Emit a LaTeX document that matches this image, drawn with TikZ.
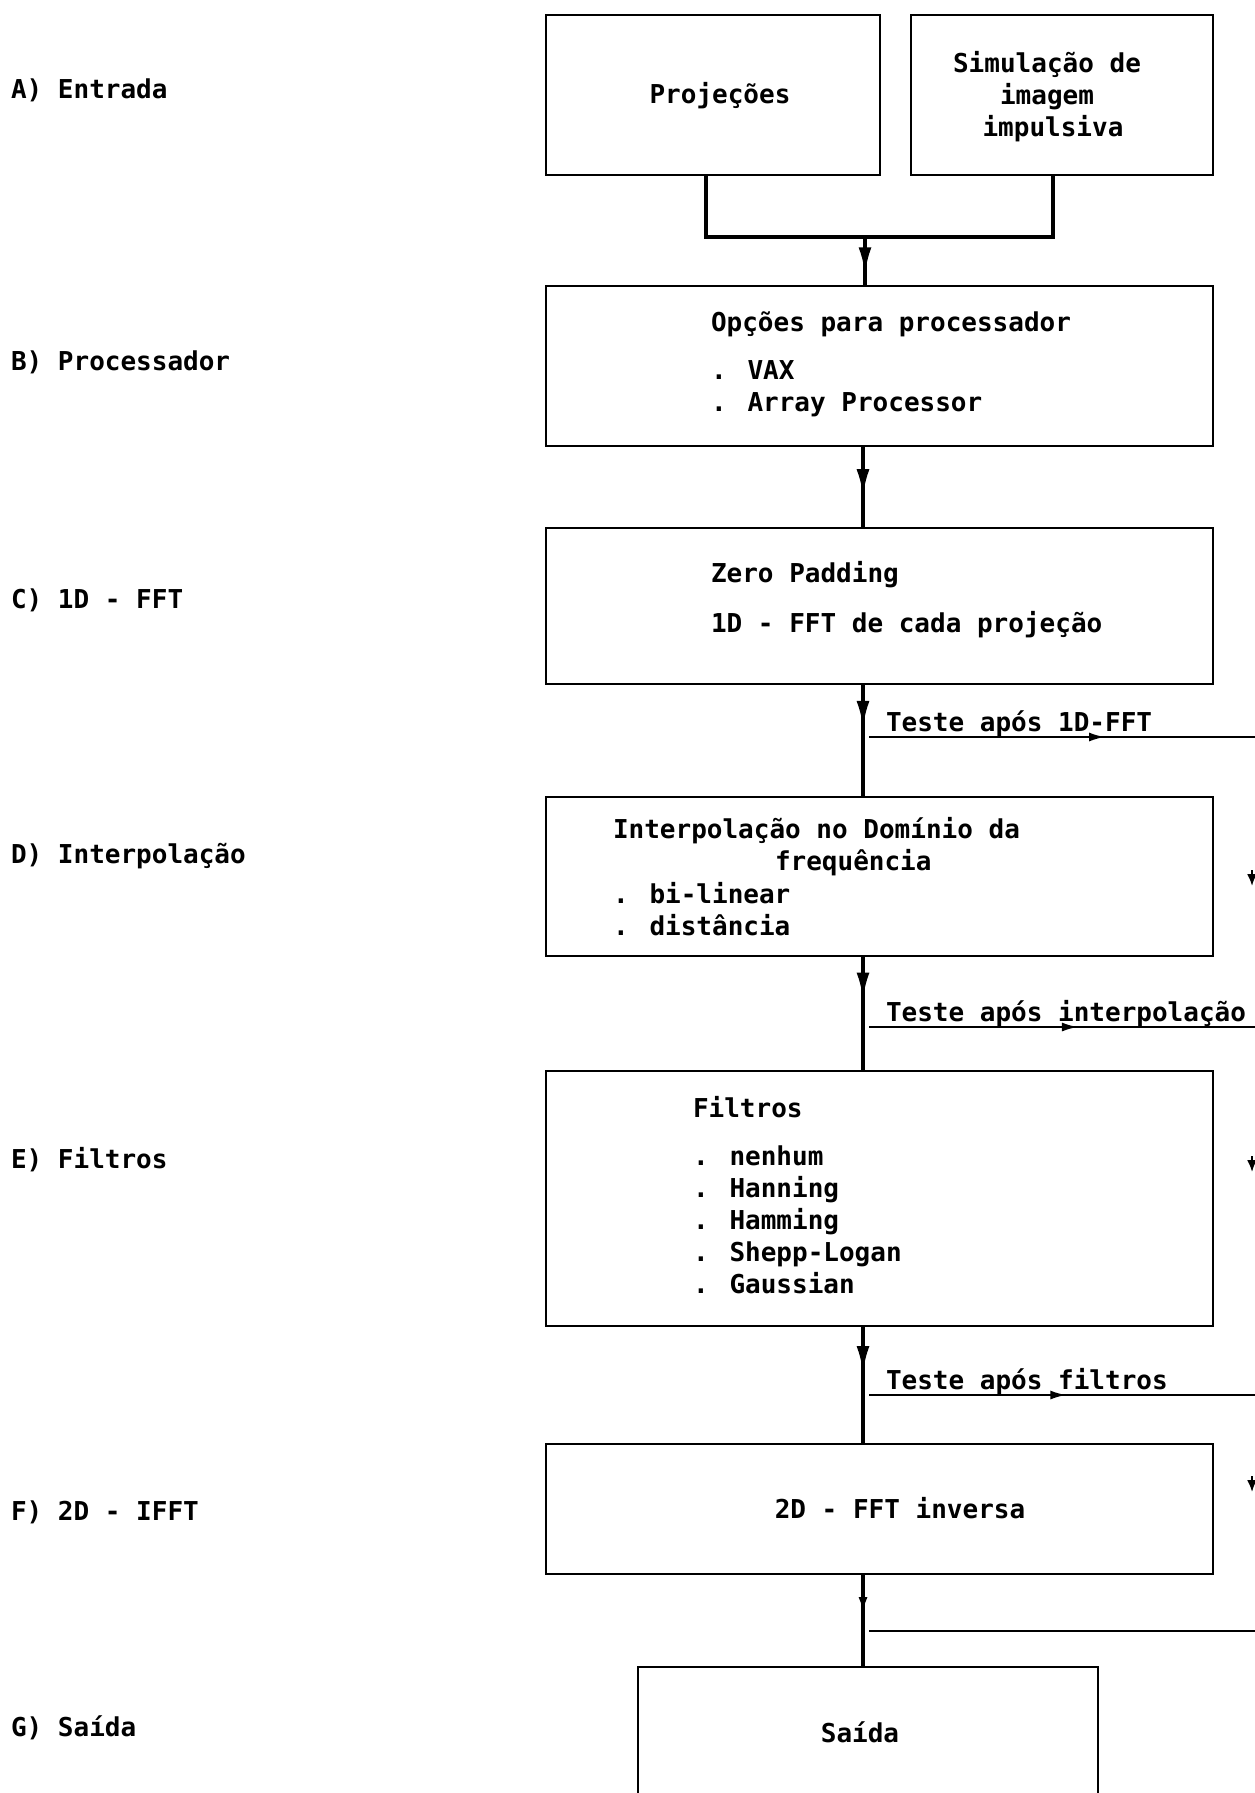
\documentclass[tikz,border=0pt]{standalone}
\usepackage{fontspec}
\setmainfont{DejaVu Sans Mono}
\usetikzlibrary{arrows.meta,decorations.markings}
\newcommand\lgfont{\fontsize{26}{32}\selectfont\bfseries}
\tikzset{
  box/.style={draw, line width=2.4pt, inner sep=0pt, outer sep=0pt, minimum width=#1},
  txt/.style={inner sep=0pt, outer sep=0pt, font=\lgfont, anchor=base west},
  ctxt/.style={inner sep=0pt, outer sep=0pt, font=\lgfont, anchor=base},
  flow/.style={line width=3.2pt},
  testline/.style={line width=2.2pt},
  midarrow/.style={postaction={decorate}, decoration={markings,
     mark=at position #1 with {\arrow{Latex[length=26pt,width=13pt]}}}},
  smallarrow/.style={postaction={decorate}, decoration={markings,
     mark=at position #1 with {\arrow{Latex[length=16pt,width=9pt]}}}},
  edgetip/.style={line width=2pt, -{Latex[length=12pt,width=10pt]}},
}
\begin{document}
\begin{tikzpicture}[x=1pt,y=-1pt]
\path[use as bounding box, fill=white] (0,0) rectangle (1255,1793);

% left labels
\node[txt] (lA) at (11,98) {A) Entrada};
\node[txt] (lB) at (11,370) {B) Processador};
\node[txt] (lC) at (11,608) {C) 1D - FFT};
\node[txt] (lD) at (11,863) {D) Interpola\c{c}\~ao};
\node[txt] (lE) at (11,1168) {E) Filtros};
\node[txt] (lF) at (11,1520) {F) 2D - IFFT};
\node[txt] (lG) at (11,1736) {G) Sa\'{\i}da};

% boxes
\node[box=334pt, minimum height=160pt] (pro) at (713,95) {};
\node[box=302pt, minimum height=160pt] (sim) at (1062,95) {};
\node[box=667pt, minimum height=160pt] (B) at (879.5,366) {};
\node[box=667pt, minimum height=156pt] (C) at (879.5,606) {};
\node[box=667pt, minimum height=159pt] (D) at (879.5,876.5) {};
\node[box=667pt, minimum height=255pt] (E) at (879.5,1198.5) {};
\node[box=667pt, minimum height=130pt] (F) at (879.5,1509) {};
\node[box=460pt, minimum height=260pt] (G) at (868,1797) {};

% box texts
\node[ctxt] (tpro) at (720,103) {Proje\c{c}\~oes};
\node[ctxt] (tsim1) at (1047,72) {Simula\c{c}\~ao de};
\node[ctxt] (tsim2) at (1047,104) {imagem};
\node[ctxt] (tsim3) at (1053,136) {impulsiva};

\node[txt] (tB1) at (711,331) {Op\c{c}\~oes para processador};
\node[txt] (tB2) at (711,379) {. VAX};
\node[txt] (tB3) at (711,411) {. Array Processor};

\node[txt] (tC1) at (711,582) {Zero Padding};
\node[txt] (tC2) at (711,632) {1D - FFT de cada proje\c{c}\~ao};

\node[txt] (tD1) at (613,838) {Interpola\c{c}\~ao no Dom\'{\i}nio da};
\node[txt] (tD2) at (775,870) {frequ\^encia};
\node[txt] (tD3) at (613,903) {. bi-linear};
\node[txt] (tD4) at (613,935) {. dist\^ancia};

\node[txt] (tE0) at (693,1117) {Filtros};
\node[txt] (tE1) at (693,1165) {. nenhum};
\node[txt] (tE2) at (693,1197) {. Hanning};
\node[txt] (tE3) at (693,1229) {. Hamming};
\node[txt] (tE4) at (693,1261) {. Shepp-Logan};
\node[txt] (tE5) at (693,1293) {. Gaussian};

\node[ctxt] (tF) at (900,1518) {2D - FFT inversa};
\node[ctxt] (tG) at (860,1742) {Sa\'{\i}da};

% input junction
\coordinate (jl) at (706,237);
\coordinate (jr) at (1053,237);
\coordinate (j) at (865,237);
\draw[flow] (pro.south -| jl) -- (jl) -- (jr) -- (sim.south -| jr);
\draw[flow, midarrow=0.74] (j) -- (B.north -| j);

% main chain
\coordinate (m) at (863,0);
\draw[flow, midarrow=0.6] (B.south -| m) -- (C.north -| m);
\draw[flow, midarrow=0.38] (C.south -| m) -- (D.north -| m);
\draw[flow, midarrow=0.37] (D.south -| m) -- (E.north -| m);
\draw[flow, midarrow=0.39] (E.south -| m) -- (F.north -| m);
\draw[flow, smallarrow=0.42] (F.south -| m) -- (G.north -| m);

% test branches
\coordinate (t1s) at (869,737);  \coordinate (t1e) at (1256,737);
\coordinate (t2s) at (869,1027); \coordinate (t2e) at (1256,1027);
\coordinate (t3s) at (869,1395); \coordinate (t3e) at (1256,1395);
\coordinate (t4s) at (869,1631); \coordinate (t4e) at (1256,1631);
\draw[testline, smallarrow=0.61] (t1s) -- (t1e);
\draw[testline, smallarrow=0.54] (t2s) -- (t2e);
\draw[testline, smallarrow=0.51] (t3s) -- (t3e);
\draw[testline] (t4s) -- (t4e);
\node[txt] (T1) at (886,731) {Teste ap\'os 1D-FFT};
\node[txt] (T2) at (886,1021) {Teste ap\'os interpola\c{c}\~ao};
\node[txt] (T3) at (886,1389) {Teste ap\'os filtros};

% arrow tips at the right edge (line beyond the page)
\coordinate (r1a) at (1252,870); \coordinate (r1b) at (1252,886);
\coordinate (r2a) at (1252,1156); \coordinate (r2b) at (1252,1172);
\coordinate (r3a) at (1252,1476); \coordinate (r3b) at (1252,1492);
\draw[edgetip] (r1a) -- (r1b);
\draw[edgetip] (r2a) -- (r2b);
\draw[edgetip] (r3a) -- (r3b);
\end{tikzpicture}
\end{document}
